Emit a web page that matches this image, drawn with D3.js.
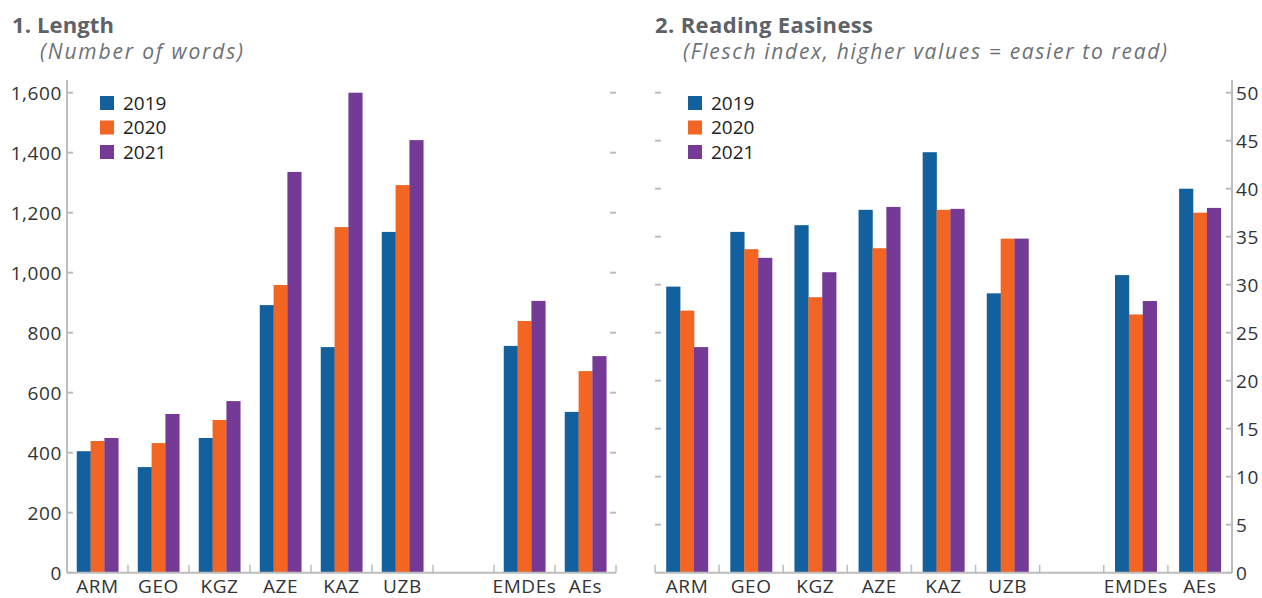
<!DOCTYPE html>
<html>
<head>
<meta charset="utf-8">
<script src="https://cdn.jsdelivr.net/npm/d3@7"></script>
<style>
  body { margin: 0; background: #fff; }
  svg { display: block; font-family: "Open Sans", Lato, sans-serif; }
  .title { font-size: 22px; font-weight: bold; fill: #5e6267; }
  .sub { font-size: 21px; font-style: italic; fill: #6d7176; }
  .tick-lbl { font-size: 19px; fill: #333; letter-spacing: 0.6px; }
  .leg { font-size: 19px; fill: #222; }
</style>
</head>
<body>
<div id="root"></div>
<script>
// ——— data
const categories = ["ARM", "GEO", "KGZ", "AZE", "KAZ", "UZB", "", "EMDEs", "AEs"];
const years = ["2019", "2020", "2021"];
const colors = ["#12609e", "#f26522", "#743a96"];

// 1. Length (number of words), null = gap column
const len2019 = [405, 352, 449, 892, 752, 1136, null, 756, 536];
const len2020 = [439, 432, 509, 959, 1152, 1292, null, 839, 672];
const len2021 = [449, 529, 572, 1336, 1600, 1442, null, 906, 722];
const lenTicks = [0, 200, 400, 600, 800, 1000, 1200, 1400, 1600];

// 2. Reading easiness (Flesch index)
const read2019 = [29.8, 35.5, 36.2, 37.8, 43.8, 29.1, null, 31.0, 40.0];
const read2020 = [27.3, 33.7, 28.7, 33.8, 37.8, 34.8, null, 26.9, 37.5];
const read2021 = [23.5, 32.8, 31.3, 38.1, 37.9, 34.8, null, 28.3, 38.0];
const readTicks = [0, 5, 10, 15, 20, 25, 30, 35, 40, 45, 50];

const W = 1262, H = 598;
const svg = d3.select("#root").append("svg").attr("width", W).attr("height", H);
const axisCol = "#bdbdbd";

// ——— one panel
function panel(opt) {
  const g = svg.append("g");
  const x = d3.scaleBand().domain(categories.map((c, i) => i)).range([opt.x0, opt.x1]).padding(0);
  const bw = x.bandwidth();
  const xs = d3.scaleBand().domain(years).range([bw * opt.pad, bw * (1 - opt.pad)]).padding(0);
  const y = d3.scaleLinear().domain([0, opt.max]).range([572.7, 92.7]);

  // titles (stretched to the reference widths)
  g.append("text").attr("class", "title").attr("x", opt.tx).attr("y", 33)
    .attr("textLength", opt.tw).attr("lengthAdjust", "spacing").text(opt.title);
  g.append("text").attr("class", "sub").attr("x", opt.tx + 28).attr("y", 59)
    .attr("textLength", opt.sw).attr("lengthAdjust", "spacing").text(opt.sub);

  // bars
  opt.series.forEach((vals, si) => {
    g.selectAll(null)
      .data(vals.map((v, i) => ({ v, i })).filter(d => d.v != null))
      .enter().append("rect")
      .attr("x", d => x(d.i) + xs(years[si]))
      .attr("width", xs.bandwidth() + 0.3)
      .attr("y", d => y(d.v))
      .attr("height", d => y(0) - y(d.v))
      .attr("fill", colors[si]);
  });

  // value axis (line + labels)
  const axX = opt.right ? opt.x1 : opt.x0;
  const oppX = opt.right ? opt.x0 : opt.x1;
  g.append("line").attr("x1", axX).attr("x2", axX).attr("y1", 80).attr("y2", y(0))
    .attr("stroke", axisCol).attr("stroke-width", 2);
  opt.ticks.forEach(t => {
    const dir = opt.right ? -1 : 1;
    g.append("line").attr("x1", axX).attr("x2", axX + dir * 6).attr("y1", y(t)).attr("y2", y(t))
      .attr("stroke", axisCol).attr("stroke-width", 2);
    if (t > 0) {
      g.append("line").attr("x1", oppX).attr("x2", oppX - dir * 6).attr("y1", y(t)).attr("y2", y(t))
        .attr("stroke", axisCol).attr("stroke-width", 2);
    }
    g.append("text").attr("class", "tick-lbl")
      .attr("x", opt.right ? axX + 4 : axX - 5)
      .attr("y", y(t)).attr("dy", "0.36em")
      .attr("text-anchor", opt.right ? "start" : "end")
      .text(opt.fmt(t));
  });

  // category axis
  g.append("line").attr("x1", opt.x0).attr("x2", opt.x1).attr("y1", y(0)).attr("y2", y(0))
    .attr("stroke", axisCol).attr("stroke-width", 2);
  categories.forEach((c, i) => {
    g.append("line").attr("x1", x(i)).attr("x2", x(i)).attr("y1", y(0)).attr("y2", y(0) - 8)
      .attr("stroke", axisCol).attr("stroke-width", 1.5);
    if (c) {
      g.append("text").attr("class", "tick-lbl")
        .attr("x", x(i) + bw / 2).attr("y", 593)
        .attr("text-anchor", "middle").text(c);
    }
  });
  g.append("line").attr("x1", opt.x1).attr("x2", opt.x1).attr("y1", y(0)).attr("y2", y(0) - 8)
    .attr("stroke", axisCol).attr("stroke-width", 1.5);

  // legend
  years.forEach((yr, i) => {
    g.append("rect").attr("x", opt.lx).attr("y", 96 + i * 24.5).attr("width", 14).attr("height", 14)
      .attr("fill", colors[i]);
    g.append("text").attr("class", "leg").attr("x", opt.lx + 23).attr("y", 103 + i * 24.5)
      .attr("dy", "0.36em").text(yr);
  });
}

panel({
  x0: 67, x1: 616, pad: 0.16, max: 1600, ticks: lenTicks, right: false,
  fmt: d3.format(","), series: [len2019, len2020, len2021],
  title: "1. Length", sub: "(Number of words)", tx: 12, lx: 100, tw: 102, sw: 203
});

panel({
  x0: 655, x1: 1232, pad: 0.175, max: 50, ticks: readTicks, right: true,
  fmt: d3.format("d"), series: [read2019, read2020, read2021],
  title: "2. Reading Easiness", sub: "(Flesch index, higher values = easier to read)", tx: 655, lx: 688,
  tw: 218, sw: 484
});
</script>
</body>
</html>
